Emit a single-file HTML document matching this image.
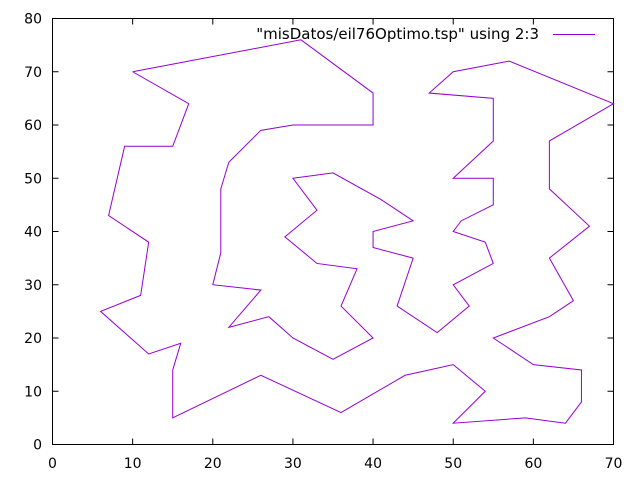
<!DOCTYPE html>
<html><head><meta charset="utf-8"><style>
body{margin:0;background:#fff}
svg{display:block;font-family:"DejaVu Sans","Liberation Sans",sans-serif;font-size:14px}
</style></head><body>
<svg id="chart" width="640" height="480" viewBox="0 0 640 480">
<rect x="0" y="0" width="640" height="480" fill="#fff"/>
<g id="ticks"></g>
<rect x="52.5" y="18.5" width="561" height="426" fill="none" stroke="#000" stroke-width="1"/>
<g id="series"></g>
<text x="539" y="39" text-anchor="end" style="font-size:15px">"misDatos/eil76Optimo.tsp" using 2:3</text>
<line x1="553" y1="34.5" x2="595" y2="34.5" stroke="#9400d3" stroke-width="1"/>
</svg>
<script>
const xTicks=[0,10,20,30,40,50,60,70];
const yTicks=[0,10,20,30,40,50,60,70,80];
const tourX=[10,31,40,40,30,26,22,21,21,20,26,22,27,30,35,40,36,38,33,29,33,30,35,41,45,40,40,45,43,48,52,50,55,54,50,51,55,55,50,55,55,47,50,57,70,62,62,67,62,65,62,55,60,66,66,64,59,50,54,50,44,36,26,15,15,16,12,6,11,12,7,9,15,17,10];
const tourY=[70,76,66,60,60,59,53,48,36,30,29,22,24,20,16,20,26,33,34,39,44,50,51,46,42,40,37,35,26,21,26,30,34,38,40,42,45,50,50,57,65,66,70,72,64,57,48,41,35,27,24,20,15,14,8,4,5,4,10,15,13,6,13,5,14,19,17,25,28,38,43,56,56,64,70];
const X0=52.5,X1=613.5,Y0=444.5,Y1=18.5;
const sx=v=>X0+(v-0)/(70-0)*(X1-X0);
const sy=v=>Y0-(v-0)/(80-0)*(Y0-Y1);
const NS="http://www.w3.org/2000/svg";
const tg=document.getElementById('ticks');
xTicks.forEach(t=>{
  const x=sx(t);
  const l=document.createElementNS(NS,'path');
  l.setAttribute('d',`M${x} ${Y0}v-6M${x} ${Y1}v6`);
  l.setAttribute('stroke','#000');
  
  
  tg.appendChild(l);
  const tx=document.createElementNS(NS,'text');
  tx.setAttribute('x',x);tx.setAttribute('y',468);tx.setAttribute('text-anchor','middle');
  tx.textContent=t;
  
  
  tg.appendChild(tx);
});
yTicks.forEach(t=>{
  const y=sy(t);
  const l=document.createElementNS(NS,'path');
  l.setAttribute('d',`M${X0} ${y}h6M${X1} ${y}h-6`);
  l.setAttribute('stroke','#000');
  
  
  tg.appendChild(l);
  const tx=document.createElementNS(NS,'text');
  tx.setAttribute('x',42);tx.setAttribute('y',y+5);tx.setAttribute('text-anchor','end');
  tx.textContent=t;
  
  
  tg.appendChild(tx);
});
const p=document.createElementNS(NS,'polyline');
p.setAttribute('points',tourX.map((v,i)=>sx(v)+','+sy(tourY[i])).join(' '));
p.setAttribute('fill','none');p.setAttribute('stroke','#9400d3');p.setAttribute('stroke-width','1');


document.getElementById('series').appendChild(p);
</script>
</body></html>
